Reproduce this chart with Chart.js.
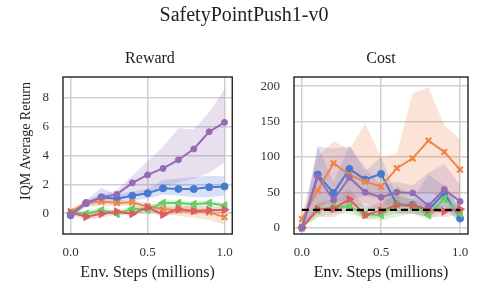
<!DOCTYPE html>
<html>
<head>
<meta charset="utf-8">
<script src="https://cdn.jsdelivr.net/npm/chart.js@4.4.0/dist/chart.umd.min.js"></script>
<style>
  body { margin: 0; background: #fff; }
  #fig { position: relative; width: 488px; height: 302px; font-family: "Liberation Serif", serif; color: #222; overflow: hidden; }
  .box { position: absolute; top: 0; width: 244px; height: 302px; }
  .txt { position: absolute; white-space: nowrap; text-align: center; }
</style>
</head>
<body>
<div id="fig">
  <div class="box" style="left:0"><canvas id="reward" width="244" height="302"></canvas></div>
  <div class="box" style="left:244px"><canvas id="cost" width="244" height="302"></canvas></div>
  <div class="txt" style="left:0;width:488px;top:2px;font-size:20px;line-height:24px">SafetyPointPush1-v0</div>
  <div class="txt" style="left:100px;width:100px;top:48px;font-size:16px;line-height:20px">Reward</div>
  <div class="txt" style="left:331px;width:100px;top:48px;font-size:16px;line-height:20px">Cost</div>
  <div class="txt" style="left:-54px;width:160px;top:132px;font-size:14px;line-height:18px;transform:rotate(-90deg)">IQM Average Return</div>
</div>
<script>
// =======================
// Données
// =======================
const steps = [0, 0.1, 0.2, 0.3, 0.4, 0.5, 0.6, 0.7, 0.8, 0.9, 1.0];

// Reward (moyenne IQM + bande)
const rewardBlue   = [-0.15, 0.7, 1.1, 1.0, 1.2, 1.38, 1.72, 1.68, 1.67, 1.8, 1.85];
const rewardBlueHi = [0.05, 0.9, 1.75, 1.3, 1.5, 1.7, 2.3, 2.4, 2.5, 2.6, 2.55];
const rewardBlueLo = [-0.3, 0.5, 0.6, 0.8, 0.9, 1.0, 1.3, 1.2, 1.1, 1.1, 1.2];

const rewardOrange   = [0.1, 0.7, 0.8, 0.7, 0.75, 0.45, 0.28, 0.2, 0.12, 0.05, -0.28];
const rewardOrangeHi = [0.3, 0.9, 1.0, 0.9, 0.9, 0.7, 0.5, 0.4, 0.4, 0.3, 0.1];
const rewardOrangeLo = [-0.1, 0.4, 0.5, 0.5, 0.5, 0.2, -0.1, -0.2, -0.3, -0.5, -0.8];

const rewardGreen   = [0.0, -0.05, 0.2, -0.05, 0.3, 0.25, 0.7, 0.7, 0.62, 0.7, 0.53];
const rewardGreenHi = [0.2, 0.2, 0.4, 0.2, 0.5, 0.5, 0.9, 0.9, 0.8, 0.9, 0.7];
const rewardGreenLo = [-0.2, -0.2, 0.0, -0.2, 0.0, -0.1, 0.3, 0.4, 0.4, 0.4, 0.3];

const rewardRed   = [0.05, -0.25, -0.05, 0.1, -0.05, 0.4, -0.1, 0.28, 0.15, 0.2, 0.23];
const rewardRedHi = [0.2, 0.0, 0.1, 0.3, 0.1, 0.6, 0.1, 0.5, 0.5, 0.4, 0.4];
const rewardRedLo = [-0.1, -0.5, -0.3, -0.1, -0.2, 0.2, -0.3, 0.1, 0.0, 0.0, 0.0];

const rewardPurple   = [-0.1, 0.7, 1.1, 1.3, 2.1, 2.65, 3.1, 3.7, 4.45, 5.65, 6.3];
const rewardPurpleHi = [0.05, 0.9, 1.3, 1.6, 2.6, 3.6, 4.6, 5.9, 5.8, 7.0, 8.6];
const rewardPurpleLo = [-0.3, 0.5, 0.9, 1.0, 1.2, 1.5, 1.8, 2.1, 2.4, 2.8, 3.5];

// Cost
const costBlue   = [0, 75, 49, 83, 68, 76, 33, 32, 25, 49, 13];
const costBlueHi = [0, 115, 65, 117, 80, 100, 45, 40, 75, 60, 25];
const costBlueLo = [0, 30, 35, 40, 45, 40, 20, 20, 15, 30, 5];

const costOrange   = [12, 53, 91, 75, 65, 58, 84, 98, 123, 107, 82];
const costOrangeHi = [20, 100, 122, 110, 147, 100, 105, 190, 198, 145, 125];
const costOrangeLo = [5, 20, 50, 40, 35, 25, 40, 45, 50, 40, 40];

const costGreen   = [0, 25, 29, 30, 19, 18, 33, 30, 18, 41, 20];
const costGreenHi = [0, 35, 40, 45, 30, 30, 60, 45, 28, 55, 30];
const costGreenLo = [0, 15, 20, 20, 12, 10, 15, 20, 10, 25, 10];

const costRed   = [0, 26, 27, 40, 18, 24, 32, 31, 25, 23, 26];
const costRedHi = [0, 35, 40, 55, 30, 35, 45, 40, 35, 30, 35];
const costRedLo = [0, 15, 15, 25, 12, 15, 20, 20, 15, 15, 18];

const costPurple   = [0, 72, 39, 71, 50, 43, 50, 49, 31, 54, 37];
const costPurpleHi = [0, 115, 112, 115, 85, 60, 65, 60, 78, 90, 60];
const costPurpleLo = [0, 30, 20, 30, 30, 25, 35, 35, 15, 30, 20];

const costLimit = [25, 25, 25, 25, 25, 25, 25, 25, 25, 25, 25];

const xTicks = [0, 0.5, 1.0];
const rewardTicks = [0, 2, 4, 6, 8];
const costTicks = [0, 50, 100, 150, 200];

// =======================
// Styles
// =======================
const COL = {
  blue:   [72, 120, 208],
  orange: [238, 133, 74],
  green:  [106, 204, 100],
  red:    [214, 95, 95],
  purple: [149, 108, 180]
};
const rgba = (c, a) => `rgba(${c[0]},${c[1]},${c[2]},${a})`;
const FONT = "'Liberation Serif', serif";

const MARK = {
  blue:   { style: "circle", r: 3.5, rot: 0, order: 5 },
  orange: { style: "crossRot", r: 4, rot: 0, order: 4 },
  green:  { style: "triangle", r: 4.5, rot: -90, order: 3 },
  red:    { style: "triangle", r: 4.5, rot: 90, order: 2 },
  purple: { style: "circle", r: 3, rot: 0, order: 1 }
};

function pts(ys) {
  return steps.map((x, i) => ({ x: x, y: ys[i] }));
}

function bande(hi, lo, c, order) {
  return [
    { data: pts(hi), borderWidth: 0, pointRadius: 0, fill: "+1", backgroundColor: rgba(c, 0.22), order: 10 + order },
    { data: pts(lo), borderWidth: 0, pointRadius: 0, fill: false, order: 10 + order }
  ];
}

function ligne(ys, name) {
  const c = COL[name], m = MARK[name];
  return {
    data: pts(ys),
    borderColor: rgba(c, 1),
    backgroundColor: rgba(c, 1),
    borderWidth: 2,
    fill: false,
    pointStyle: m.style,
    pointRadius: m.r,
    pointRotation: m.rot,
    pointBorderWidth: m.style === "crossRot" ? 2.2 : 1,
    order: m.order
  };
}

// cadre autour de la zone du graphique
const cadre = {
  id: "cadre",
  afterDraw(chart) {
    const a = chart.chartArea, ctx = chart.ctx;
    ctx.save();
    ctx.strokeStyle = "#111";
    ctx.lineWidth = 1.3;
    ctx.strokeRect(a.left, a.top, a.right - a.left, a.bottom - a.top);
    ctx.restore();
  }
};

function tracer(id, series, yMin, yMax, yTicks, yWidth, padRight) {
  const datasets = [];
  series.forEach(s => datasets.push(...bande(s.hi, s.lo, COL[s.name], MARK[s.name].order)));
  series.forEach(s => datasets.push(ligne(s.mean, s.name)));
  if (id === "cost") {
    datasets.push({
      data: pts(costLimit), borderColor: "#000", borderWidth: 2.2, borderDash: [7, 4],
      pointRadius: 0, fill: false, order: 0
    });
  }

  new Chart(document.getElementById(id), {
    type: "line",
    data: { datasets: datasets },
    options: {
      responsive: false,
      animation: false,
      layout: { padding: { left: 0, right: padRight, top: 77, bottom: 0 } },
      plugins: {
        legend: { display: false },
        tooltip: { enabled: false },
        filler: { drawTime: "beforeDatasetsDraw" }
      },
      scales: {
        x: {
          type: "linear",
          min: -0.05, max: 1.05,
          afterBuildTicks: s => { s.ticks = xTicks.map(v => ({ value: v })); },
          afterFit: s => { s.height = 68; },
          ticks: { padding: 11, color: "#333", font: { family: FONT, size: 13 }, callback: v => v.toFixed(1) },
          grid: { color: "#cfcfcf", lineWidth: 1.5, drawTicks: false },
          border: { display: false },
          title: {
            display: true, text: "Env. Steps (millions)", color: "#222",
            font: { family: FONT, size: 16 }, padding: { top: 0, bottom: 20 }
          }
        },
        y: {
          min: yMin, max: yMax,
          afterBuildTicks: s => { s.ticks = yTicks.map(v => ({ value: v })); },
          afterFit: s => { s.width = yWidth; },
          ticks: { padding: 14, color: "#333", font: { family: FONT, size: 13 } },
          grid: { color: "#cfcfcf", lineWidth: 1.5, drawTicks: false },
          border: { display: false }
        }
      }
    },
    plugins: [cadre]
  });
}

tracer("reward", [
  { name: "blue", mean: rewardBlue, hi: rewardBlueHi, lo: rewardBlueLo },
  { name: "orange", mean: rewardOrange, hi: rewardOrangeHi, lo: rewardOrangeLo },
  { name: "green", mean: rewardGreen, hi: rewardGreenHi, lo: rewardGreenLo },
  { name: "red", mean: rewardRed, hi: rewardRedHi, lo: rewardRedLo },
  { name: "purple", mean: rewardPurple, hi: rewardPurpleHi, lo: rewardPurpleLo }
], -1.45, 9.45, rewardTicks, 63, 7);

tracer("cost", [
  { name: "blue", mean: costBlue, hi: costBlueHi, lo: costBlueLo },
  { name: "orange", mean: costOrange, hi: costOrangeHi, lo: costOrangeLo },
  { name: "green", mean: costGreen, hi: costGreenHi, lo: costGreenLo },
  { name: "red", mean: costRed, hi: costRedHi, lo: costRedLo },
  { name: "purple", mean: costPurple, hi: costPurpleHi, lo: costPurpleLo }
], -9, 213, costTicks, 50, 20);
</script>
</body>
</html>
